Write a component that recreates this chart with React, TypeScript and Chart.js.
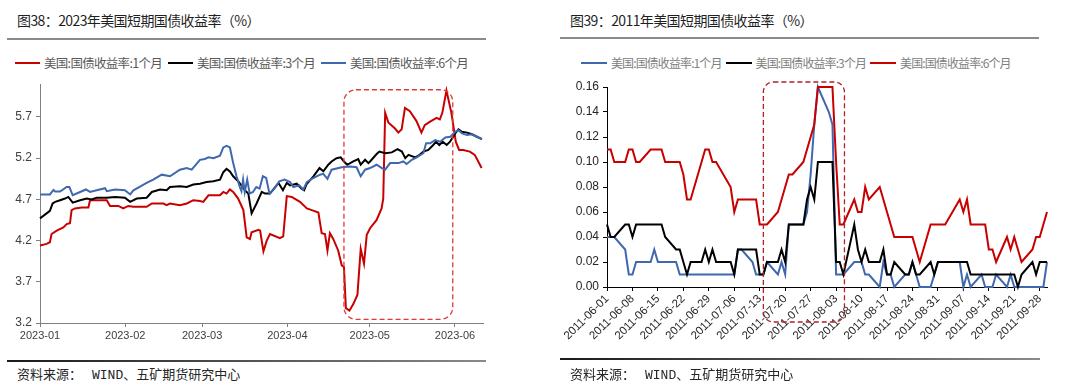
import React, { useEffect, useRef } from 'react';
import { Chart, registerables } from 'chart.js';

Chart.register(...registerables);

// ===================== Figure 38: 2023 US short-term Treasury yields =====================
// x = days since 2023-01-01, y = yield in %
const BASE_2023 = '2023-01-01';
const DAYS_1M_2023 = [0, 2.4, 3.6, 4.2, 6.1, 8.5, 9.7, 10.9, 11.5, 12.7, 15.2, 17.6, 18.2, 21.8, 24.3, 25.5, 28.5, 30.3, 32.1, 34, 38.8, 40.7, 44.9, 46.1, 47.3, 50.9, 53.4, 55.8, 58.2, 59.4, 61.3, 65.5, 66.7, 67.9, 69.1, 70.3, 72.1, 74, 75.2, 76.4, 77, 79.5, 80.1, 81.3, 82.5, 83.7, 87.3, 88.5, 89.8, 91.6, 94.6, 97.1, 98.9, 101.3, 102.5, 103.7, 104.6, 105.5, 106.7, 108.5, 109.8, 110.6, 111.3, 112.6, 114, 115.5, 116.7, 117.9, 118.9, 120.1, 122.5, 124.3, 124.9, 125.6, 126.8, 129.2, 130.4, 131.6, 132.8, 134.6, 137, 138.8, 140, 141.8, 144.3, 145.5, 146.4, 147.9, 149.7, 151.3, 152.5, 154, 156.4, 158.2, 160.7];
const YIELD_1M_2023 = [4.14, 4.16, 4.18, 4.28, 4.32, 4.36, 4.40, 4.41, 4.57, 4.59, 4.60, 4.60, 4.69, 4.69, 4.69, 4.62, 4.62, 4.59, 4.62, 4.61, 4.61, 4.65, 4.65, 4.63, 4.65, 4.63, 4.65, 4.69, 4.68, 4.67, 4.75, 4.75, 4.79, 4.77, 4.82, 4.79, 4.71, 4.57, 4.24, 4.22, 4.30, 4.33, 4.32, 4.07, 4.20, 4.28, 4.23, 4.25, 4.74, 4.73, 4.67, 4.59, 4.57, 4.54, 4.29, 4.28, 4.08, 4.29, 4.22, 4.08, 3.90, 3.88, 3.38, 3.35, 3.43, 3.54, 4.10, 3.92, 4.27, 4.35, 4.45, 4.59, 4.71, 5.75, 5.63, 5.56, 5.51, 5.55, 5.81, 5.77, 5.65, 5.51, 5.60, 5.64, 5.69, 5.67, 5.75, 6.02, 5.75, 5.40, 5.30, 5.30, 5.28, 5.24, 5.08];
const DAYS_3M_2023 = [0, 2.4, 3.6, 4.6, 5.5, 7.3, 9.1, 10.3, 11.9, 14.6, 17, 18.8, 20.6, 24.3, 27.3, 30.9, 32.8, 35.2, 38.8, 40.7, 43.7, 46.1, 47.3, 50.9, 53.4, 55.8, 58.2, 60.6, 63.1, 65.5, 66.7, 67.9, 69.1, 70.3, 72.1, 74.6, 75.8, 77, 78.8, 80.7, 81.9, 83.7, 86.8, 88.4, 89.8, 91, 93.4, 95.2, 96.1, 97.1, 99.5, 101.7, 103.1, 104.9, 106.1, 107.9, 109.4, 110.6, 111.8, 114, 115.8, 116.7, 118.3, 119.5, 120.1, 122.5, 123.5, 125.6, 128, 130.1, 131.7, 132.9, 134.1, 136.5, 137.7, 139.5, 141.3, 143.1, 144.1, 145.3, 146.5, 148, 149.2, 151.1, 152.3, 153.5, 155.4, 157.2, 159, 160.8];
const YIELD_3M_2023 = [4.47, 4.53, 4.56, 4.65, 4.67, 4.69, 4.71, 4.73, 4.66, 4.69, 4.71, 4.70, 4.72, 4.72, 4.73, 4.72, 4.67, 4.71, 4.72, 4.79, 4.82, 4.81, 4.85, 4.86, 4.85, 4.88, 4.89, 4.91, 4.92, 4.94, 5.03, 5.07, 5.04, 4.98, 4.92, 4.81, 4.77, 4.53, 4.65, 4.79, 4.77, 4.77, 4.90, 4.81, 4.90, 4.87, 4.89, 4.83, 4.81, 4.89, 4.98, 5.08, 5.04, 5.12, 5.16, 5.20, 5.21, 5.16, 5.12, 5.16, 5.19, 5.12, 5.18, 5.14, 5.16, 5.25, 5.28, 5.26, 5.27, 5.31, 5.28, 5.20, 5.24, 5.21, 5.23, 5.28, 5.30, 5.36, 5.40, 5.36, 5.40, 5.36, 5.40, 5.50, 5.55, 5.52, 5.51, 5.49, 5.46, 5.43];
const DAYS_6M_2023 = [0, 3.6, 4.9, 5.5, 7.3, 9.7, 10.7, 11.9, 14.6, 16.7, 18.2, 20.6, 23.7, 24.3, 27.3, 30.9, 32.8, 34, 36.4, 38.8, 41.2, 44.3, 47.3, 50.9, 53.4, 55.2, 58.2, 60, 61.3, 63.1, 65.5, 66.7, 67.9, 69.1, 70.3, 71.5, 72.7, 73.3, 73.9, 74.5, 75.4, 76.3, 77.5, 78.7, 79.9, 81.1, 82.3, 83.5, 85.3, 87.1, 89, 91, 92.2, 94.4, 95.8, 97.1, 98.9, 101.9, 103.1, 104.6, 106.1, 109.8, 112.8, 115.2, 116.7, 118.3, 120.1, 122.5, 124.4, 125.6, 127.4, 130.4, 132.2, 133.4, 135.3, 137.1, 139.5, 140.5, 142, 143.8, 145.6, 147.5, 149.3, 151.1, 152.3, 153.6, 155.4, 157.2, 159, 160.8];
const YIELD_6M_2023 = [4.76, 4.76, 4.815, 4.795, 4.795, 4.85, 4.85, 4.75, 4.79, 4.82, 4.79, 4.81, 4.835, 4.80, 4.82, 4.81, 4.76, 4.81, 4.855, 4.90, 4.94, 5.00, 4.98, 5.06, 5.08, 5.06, 5.18, 5.19, 5.21, 5.20, 5.23, 5.33, 5.35, 5.33, 5.14, 4.98, 4.85, 4.80, 4.94, 4.79, 4.94, 4.77, 4.79, 4.85, 4.83, 4.98, 4.96, 4.77, 4.83, 4.92, 4.94, 4.91, 4.85, 4.87, 4.82, 4.91, 4.95, 5.00, 5.01, 4.95, 5.06, 5.09, 5.10, 5.09, 4.98, 5.06, 5.08, 5.12, 5.08, 5.06, 5.14, 5.14, 5.16, 5.13, 5.18, 5.21, 5.26, 5.38, 5.38, 5.42, 5.40, 5.45, 5.46, 5.52, 5.54, 5.50, 5.48, 5.49, 5.46, 5.43];
const MONTH_TICKS_2023 = ['2023-01', '2023-02', '2023-03', '2023-04', '2023-05', '2023-06'];
const Y_TICKS_2023 = [3.2, 3.7, 4.2, 4.7, 5.2, 5.7];
const HIGHLIGHT_2023 = { fromDay: 110.6, toDay: 150.2, low: 3.245, high: 6.03 };

// ===================== Figure 39: 2011 US short-term Treasury yields =====================
const YEAR_2011 = '2011';
const DATES_2011 = [
  '06-01', '06-02', '06-03', '06-06', '06-07', '06-08', '06-09', '06-10', '06-13', '06-14', '06-15', '06-16', '06-17', '06-20', '06-21', '06-22', '06-23', '06-24', '06-27', '06-28', '06-29', '06-30',
  '07-01', '07-05', '07-06', '07-07', '07-08', '07-11', '07-12', '07-13', '07-14', '07-15', '07-18', '07-19', '07-20', '07-21', '07-22', '07-25', '07-26', '07-27', '07-28', '07-29',
  '08-01', '08-02', '08-03', '08-04', '08-05', '08-08', '08-09', '08-10', '08-11', '08-12', '08-15', '08-16', '08-17', '08-18', '08-19', '08-22', '08-23', '08-24', '08-25', '08-26', '08-29', '08-30', '08-31',
  '09-01', '09-02', '09-06', '09-07', '09-08', '09-09', '09-12', '09-13', '09-14', '09-15', '09-16', '09-19', '09-20', '09-21', '09-22', '09-23', '09-26', '09-27', '09-28', '09-29', '09-30',
];
const YIELD_1M_2011 = [
  0.04, 0.04, 0.04, 0.03, 0.01, 0.01, 0.02, 0.02, 0.02, 0.03, 0.02, 0.02, 0.02, 0.02, 0.01, 0.01, 0.01, 0.01, 0.01, 0.01, 0.01, 0.01,
  0.01, 0.01, 0.01, 0.03, 0.03, 0.02, 0.01, 0.01, 0.01, 0.02, 0.01, 0.02, 0.01, 0.05, 0.05, 0.05, 0.06, 0.09, 0.13, 0.16,
  0.14, 0.13, 0.01, 0.01, 0.01, 0.02, 0.02, 0.02, 0.01, 0.01, 0.00, 0.02, 0.01, 0.01, 0.00, 0.01, 0.01, 0.02, 0.01, 0.00, 0.00, 0.01, 0.02,
  0.02, 0.02, 0.02, 0.00, 0.01, 0.00, 0.01, 0.00, 0.00, 0.00, 0.01, 0.00, 0.01, 0.00, 0.00, 0.00, 0.00, 0.00, 0.00, 0.00, 0.02,
];
const YIELD_3M_2011 = [
  0.05, 0.04, 0.04, 0.05, 0.05, 0.04, 0.05, 0.05, 0.05, 0.05, 0.05, 0.05, 0.04, 0.03, 0.03, 0.02, 0.01, 0.02, 0.02, 0.03, 0.02, 0.03,
  0.02, 0.02, 0.01, 0.03, 0.03, 0.03, 0.03, 0.01, 0.01, 0.02, 0.02, 0.03, 0.02, 0.05, 0.05, 0.05, 0.07, 0.08, 0.07, 0.10,
  0.10, 0.10, 0.02, 0.02, 0.01, 0.05, 0.03, 0.02, 0.03, 0.02, 0.02, 0.03, 0.01, 0.01, 0.02, 0.01, 0.01, 0.02, 0.01, 0.01, 0.02, 0.01, 0.02,
  0.02, 0.02, 0.02, 0.02, 0.02, 0.01, 0.01, 0.01, 0.01, 0.01, 0.01, 0.01, 0.01, 0.01, 0.00, 0.01, 0.02, 0.01, 0.02, 0.02, 0.02,
];
const YIELD_6M_2011 = [
  0.11, 0.11, 0.10, 0.10, 0.11, 0.11, 0.10, 0.10, 0.11, 0.11, 0.11, 0.11, 0.10, 0.10, 0.10, 0.09, 0.07, 0.07, 0.10, 0.11, 0.11, 0.10,
  0.10, 0.08, 0.06, 0.07, 0.07, 0.07, 0.07, 0.05, 0.05, 0.05, 0.06, 0.07, 0.08, 0.09, 0.09, 0.10, 0.11, 0.12, 0.13, 0.16,
  0.16, 0.16, 0.10, 0.05, 0.05, 0.07, 0.06, 0.06, 0.08, 0.07, 0.08, 0.07, 0.06, 0.05, 0.04, 0.04, 0.04, 0.04, 0.03, 0.02, 0.05, 0.05, 0.05,
  0.05, 0.05, 0.07, 0.06, 0.07, 0.05, 0.05, 0.05, 0.03, 0.03, 0.02, 0.04, 0.03, 0.04, 0.03, 0.02, 0.03, 0.04, 0.04, 0.05, 0.06,
];
const X_TICKS_2011 = ['2011-06-01', '2011-06-08', '2011-06-15', '2011-06-22', '2011-06-29', '2011-07-06', '2011-07-13', '2011-07-20', '2011-07-27', '2011-08-03', '2011-08-10', '2011-08-17', '2011-08-24', '2011-08-31', '2011-09-07', '2011-09-14', '2011-09-21', '2011-09-28'];
const Y_TICKS_2011 = [0, 0.02, 0.04, 0.06, 0.08, 0.10, 0.12, 0.14, 0.16];
const HIGHLIGHT_2011 = { from: '2011-07-14', to: '2011-08-05', low: -0.028, high: 0.164 };

const LABEL_1M = '美国:国债收益率:1个月';
const LABEL_3M = '美国:国债收益率:3个月';
const LABEL_6M = '美国:国债收益率:6个月';

// ===================== styles =====================
const RED = '#C80000';
const BLACK = '#000000';
const BLUE = '#4068AE';
const CJK = "'Noto Sans CJK SC', 'Noto Sans', sans-serif";
const NUM = "'Liberation Sans', 'DejaVu Sans', sans-serif";

function dayIndex(date: string, base: string): number {
  return Math.round((Date.parse(date + 'T00:00:00Z') - Date.parse(base + 'T00:00:00Z')) / 86400000);
}

function pairs(xs: number[], ys: number[]) {
  const n = Math.min(xs.length, ys.length);
  const out: { x: number; y: number }[] = [];
  for (let i = 0; i < n; i++) out.push({ x: xs[i], y: ys[i] });
  return out;
}

const highlightPlugin = {
  id: 'highlightBox',
  afterDraw(chart: any, _args: any, opts: any) {
    if (!opts || !opts.box) return;
    const xs = chart.scales.x;
    const ys = chart.scales.y;
    const l = xs.getPixelForValue(opts.box.x0);
    const r = xs.getPixelForValue(opts.box.x1);
    const t = ys.getPixelForValue(opts.box.y1);
    const b = ys.getPixelForValue(opts.box.y0);
    const ctx = chart.ctx;
    ctx.save();
    ctx.strokeStyle = opts.color;
    ctx.lineWidth = opts.width;
    ctx.setLineDash(opts.dash);
    ctx.beginPath();
    ctx.roundRect(l, t, r - l, b - t, opts.radius);
    ctx.stroke();
    ctx.restore();
  },
};

function lineDs(label: string, data: any[], color: string, order: number, width = 2) {
  return {
    label,
    data,
    borderColor: color,
    backgroundColor: color,
    borderWidth: width,
    pointRadius: 0,
    tension: 0,
    order,
    clip: false as any,
  };
}

function config2023(): any {
  const monthDays = MONTH_TICKS_2023.map((m) => dayIndex(m + '-01', BASE_2023));
  return {
    type: 'line',
    data: {
      datasets: [
        lineDs(LABEL_1M, pairs(DAYS_1M_2023, YIELD_1M_2023), RED, 3),
        lineDs(LABEL_3M, pairs(DAYS_3M_2023, YIELD_3M_2023), BLACK, 2),
        lineDs(LABEL_6M, pairs(DAYS_6M_2023, YIELD_6M_2023), BLUE, 1),
      ],
    },
    options: {
      animation: false,
      responsive: false,
      maintainAspectRatio: false,
      parsing: false,
      normalized: true,
      layout: { padding: { left: 0, right: 57, top: 14, bottom: 5 } },
      plugins: {
        legend: { display: false },
        tooltip: { enabled: false },
        highlightBox: {
          box: { x0: HIGHLIGHT_2023.fromDay, x1: HIGHLIGHT_2023.toDay, y0: HIGHLIGHT_2023.low, y1: HIGHLIGHT_2023.high },
          color: '#E23A3A',
          width: 1.3,
          dash: [5, 3],
          radius: 12,
        },
      },
      scales: {
        x: {
          type: 'linear',
          min: 0,
          max: 161.2,
          afterBuildTicks: (s: any) => {
            s.ticks = monthDays.map((v) => ({ value: v }));
          },
          afterFit: (s: any) => {
            s.height = 32;
          },
          ticks: {
            autoSkip: false,
            maxRotation: 0,
            minRotation: 0,
            padding: 2,
            color: '#404040',
            font: { family: NUM, size: 11 },
            callback: (_v: any, i: number) => MONTH_TICKS_2023[i],
          },
          grid: { drawOnChartArea: false, drawTicks: true, tickLength: 4, color: '#808080' },
          border: { display: true, color: '#808080', width: 1 },
        },
        y: {
          type: 'linear',
          min: 3.2,
          max: 6.1,
          afterBuildTicks: (s: any) => {
            s.ticks = Y_TICKS_2023.map((v) => ({ value: v }));
          },
          afterFit: (s: any) => {
            s.width = 40;
          },
          ticks: {
            padding: 4,
            color: '#404040',
            font: { family: NUM, size: 12 },
            callback: (v: any) => Number(v).toFixed(1),
          },
          grid: { drawOnChartArea: false, drawTicks: true, tickLength: 4, color: '#808080' },
          border: { display: true, color: '#808080', width: 1 },
        },
      },
    },
    plugins: [highlightPlugin],
  };
}

function config2011(): any {
  const base = X_TICKS_2011[0];
  const xs = DATES_2011.map((d) => dayIndex(YEAR_2011 + '-' + d, base));
  const tickDays = X_TICKS_2011.map((d) => dayIndex(d, base));
  const lastDay = xs[xs.length - 1];
  return {
    type: 'line',
    data: {
      datasets: [
        lineDs(LABEL_1M, pairs(xs, YIELD_1M_2011), BLUE, 3),
        lineDs(LABEL_3M, pairs(xs, YIELD_3M_2011), BLACK, 2),
        lineDs(LABEL_6M, pairs(xs, YIELD_6M_2011), RED, 1),
      ],
    },
    options: {
      animation: false,
      responsive: false,
      maintainAspectRatio: false,
      parsing: false,
      normalized: true,
      layout: { padding: { left: 0, right: 33, top: 17, bottom: 3 } },
      plugins: {
        legend: { display: false },
        tooltip: { enabled: false },
        highlightBox: {
          box: {
            x0: dayIndex(HIGHLIGHT_2011.from, base),
            x1: dayIndex(HIGHLIGHT_2011.to, base) + 0.3,
            y0: HIGHLIGHT_2011.low,
            y1: HIGHLIGHT_2011.high,
          },
          color: '#B0202A',
          width: 1.3,
          dash: [5, 3],
          radius: 10,
        },
      },
      scales: {
        x: {
          type: 'linear',
          min: 0,
          max: lastDay,
          afterBuildTicks: (s: any) => {
            s.ticks = tickDays.map((v) => ({ value: v }));
          },
          afterFit: (s: any) => {
            s.height = 70;
          },
          ticks: {
            autoSkip: false,
            maxRotation: 45,
            minRotation: 45,
            padding: 1,
            color: '#262626',
            font: { family: NUM, size: 11.5 },
            callback: (_v: any, i: number) => X_TICKS_2011[i],
          },
          grid: { drawOnChartArea: false, drawTicks: true, tickLength: 4, color: '#000' },
          border: { display: true, color: '#000', width: 1 },
        },
        y: {
          type: 'linear',
          min: 0,
          max: 0.16,
          afterBuildTicks: (s: any) => {
            s.ticks = Y_TICKS_2011.map((v) => ({ value: v }));
          },
          afterFit: (s: any) => {
            s.width = 62;
          },
          ticks: {
            padding: 4,
            color: '#262626',
            font: { family: NUM, size: 12 },
            callback: (v: any) => Number(v).toFixed(2),
          },
          grid: { drawOnChartArea: false, drawTicks: true, tickLength: 4, color: '#000' },
          border: { display: true, color: '#000', width: 1 },
        },
      },
    },
    plugins: [highlightPlugin],
  };
}

function ChartCanvas(props: { makeConfig: () => any; left: number; top: number; width: number; height: number }) {
  const ref = useRef<HTMLCanvasElement | null>(null);
  useEffect(() => {
    const chart = new Chart(ref.current as HTMLCanvasElement, props.makeConfig());
    return () => chart.destroy();
  }, []);
  return (
    <canvas
      ref={ref}
      width={props.width}
      height={props.height}
      style={{ position: 'absolute', left: props.left, top: props.top, width: props.width, height: props.height }}
    />
  );
}

function Legend(props: {
  left: number;
  top: number;
  items: { label: string; color: string }[];
  fontSize: number;
  letterSpacing: number;
  textColor: string;
  lineWidth: number;
  gap: number;
}) {
  return (
    <div
      style={{
        position: 'absolute',
        left: props.left,
        top: props.top,
        height: 18,
        display: 'flex',
        alignItems: 'center',
        fontFamily: CJK,
        fontSize: props.fontSize,
        letterSpacing: props.letterSpacing,
        color: props.textColor,
        whiteSpace: 'nowrap',
      }}
    >
      {props.items.map((it, i) => (
        <div key={i} style={{ display: 'flex', alignItems: 'center', marginRight: props.gap }}>
          <div style={{ width: props.lineWidth, height: 2.5, background: it.color, marginRight: 4 }} />
          <span style={{ lineHeight: '18px' }}>{it.label}</span>
        </div>
      ))}
    </div>
  );
}

function Source(props: { left: number }) {
  return (
    <div
      style={{
        position: 'absolute',
        left: props.left,
        top: 365,
        fontFamily: CJK,
        fontSize: 13,
        lineHeight: '18px',
        color: '#262626',
        whiteSpace: 'nowrap',
      }}
    >
      资料来源：
      <span style={{ marginLeft: 10, fontFamily: "'Liberation Mono', monospace", fontSize: 13 }}>WIND</span>
      、五矿期货研究中心
    </div>
  );
}

function Title(props: { left: number; text: string }) {
  return (
    <div
      style={{
        position: 'absolute',
        left: props.left,
        top: 10,
        fontFamily: CJK,
        fontSize: 14,
        letterSpacing: -0.6,
        lineHeight: '20px',
        color: '#1f1f1f',
        whiteSpace: 'nowrap',
      }}
    >
      {props.text}
    </div>
  );
}

export default function App() {
  return (
    <div
      style={{
        position: 'absolute',
        left: 0,
        top: 0,
        width: 1080,
        height: 390,
        background: '#fff',
        overflow: 'hidden',
      }}
    >
      {/* Left panel */}
      <Title left={17} text="图38：2023年美国短期国债收益率（%）" />
      <div style={{ position: 'absolute', left: 7, top: 38, width: 479, height: 2, background: '#8a8a8a' }} />
      <Legend
        left={15}
        top={54}
        fontSize={12.5}
        letterSpacing={-0.7}
        textColor="#595959"
        lineWidth={25}
        gap={6}
        items={[
          { label: LABEL_1M, color: RED },
          { label: LABEL_3M, color: BLACK },
          { label: LABEL_6M, color: BLUE },
        ]}
      />
      <ChartCanvas makeConfig={config2023} left={0} top={70} width={540} height={290} />
      <div
        style={{
          position: 'absolute',
          left: 7,
          top: 360,
          width: 479,
          height: 1.5,
          background: 'linear-gradient(to right, #1a1a1a, #8a8a8a)',
        }}
      />
      <Source left={17} />

      {/* Right panel */}
      <Title left={570} text="图39：2011年美国短期国债收益率（%）" />
      <div style={{ position: 'absolute', left: 560, top: 37, width: 479, height: 2, background: '#8a8a8a' }} />
      <Legend
        left={581}
        top={54}
        fontSize={12}
        letterSpacing={-0.9}
        textColor="#808080"
        lineWidth={26}
        gap={4}
        items={[
          { label: LABEL_1M, color: BLUE },
          { label: LABEL_3M, color: BLACK },
          { label: LABEL_6M, color: RED },
        ]}
      />
      <ChartCanvas makeConfig={config2011} left={545} top={70} width={535} height={290} />
      <div
        style={{
          position: 'absolute',
          left: 560,
          top: 358,
          width: 480,
          height: 1.5,
          background: 'linear-gradient(to right, #1a1a1a, #8a8a8a)',
        }}
      />
      <Source left={570} />
    </div>
  );
}
